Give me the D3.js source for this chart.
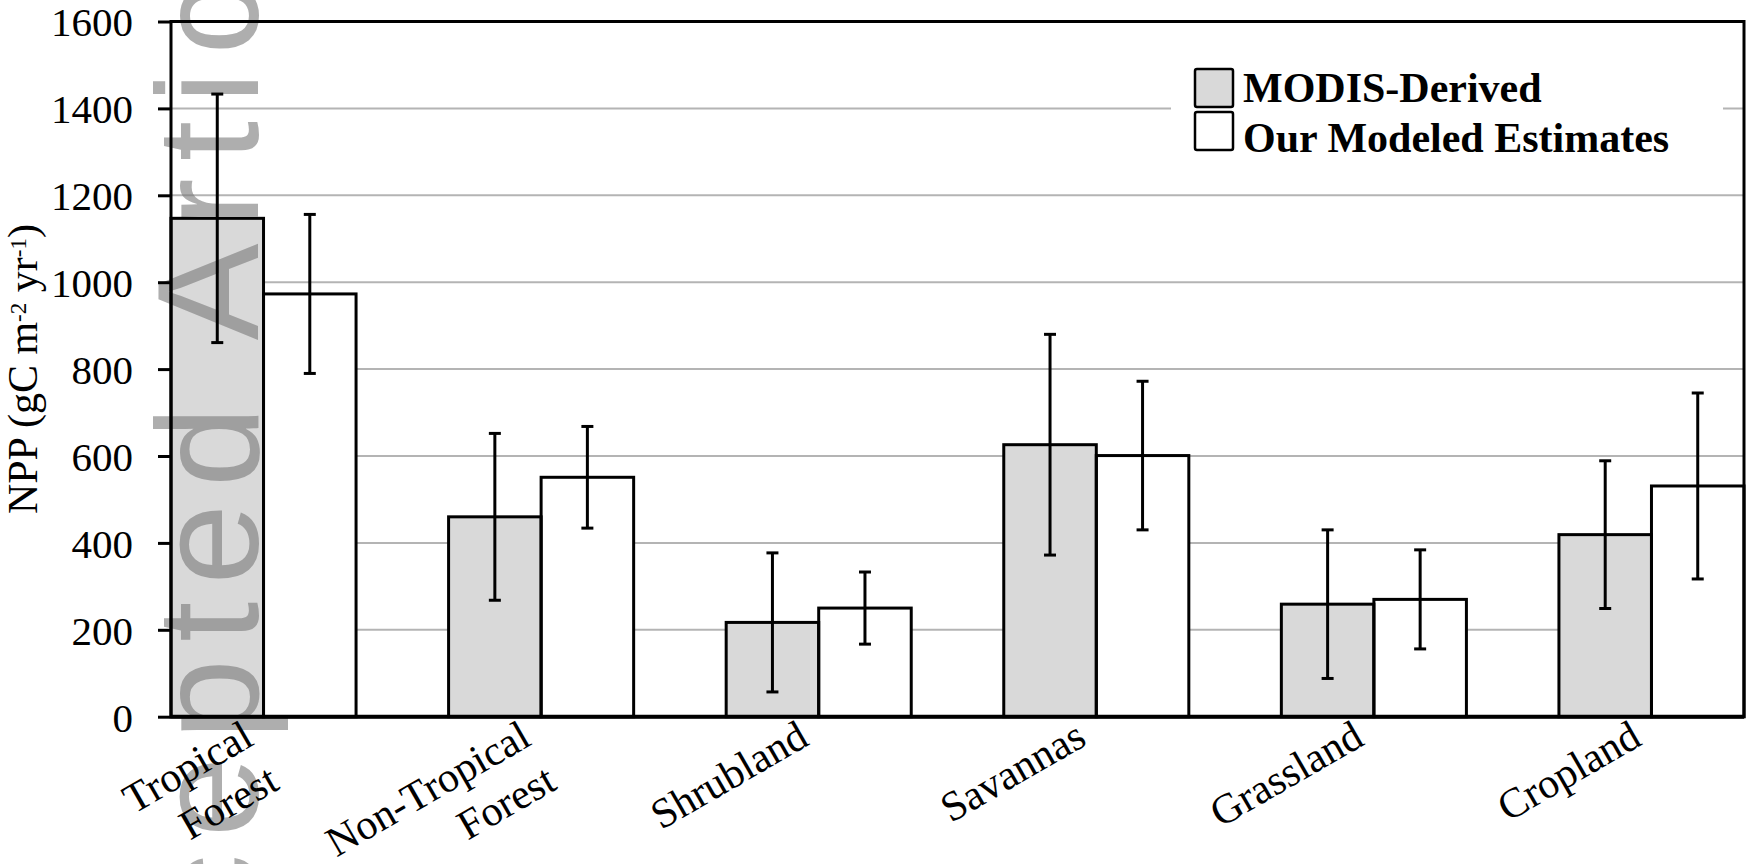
<!DOCTYPE html>
<html>
<head>
<meta charset="utf-8">
<script src="https://cdn.jsdelivr.net/npm/d3@7"></script>
<style>
  body { margin: 0; background: #fff; }
  svg { display: block; }
  text { font-family: "Liberation Serif", "Times New Roman", serif; fill: #000; }
</style>
</head>
<body>
<svg id="chart" width="1747" height="864"></svg>
<script>
(function () {
  'use strict';

  // ---------------- data ----------------
  var categories = ['Tropical Forest', 'Non-Tropical Forest', 'Shrubland', 'Savannas', 'Grassland', 'Cropland'];
  var categoryLines = [['Tropical', 'Forest'], ['Non-Tropical', 'Forest'], ['Shrubland'], ['Savannas'], ['Grassland'], ['Cropland']];
  var seriesNames = ['MODIS-Derived', 'Our Modeled Estimates'];
  var modisValues = [1147, 460, 217, 626, 259, 419];
  var modisErrors = [286, 192, 160, 254, 171, 170];
  var modeledValues = [973, 551, 250, 601, 270, 531];
  var modeledErrors = [183, 117, 83, 171, 114, 214];
  var yTicks = [0, 200, 400, 600, 800, 1000, 1200, 1400, 1600];

  var seriesColors = ['#d9d9d9', '#ffffff'];

  var margin = { left: 171, right: 3, top: 21.5, bottom: 147.3 };
  var width = 1747, height = 864;
  var svg = d3.select('#chart');

  var x = d3.scaleBand()
    .domain(categories)
    .range([margin.left, width - margin.right])
    .paddingInner(1 / 3)
    .paddingOuter(0);

  var xSub = d3.scaleBand()
    .domain(seriesNames)
    .range([0, x.bandwidth()]);

  var y = d3.scaleLinear()
    .domain([0, 1600])
    .range([height - margin.bottom, margin.top]);

  // flatten to one row per bar
  var rows = [];
  categories.forEach(function (c, i) {
    rows.push({ cat: c, series: seriesNames[0], value: modisValues[i], err: modisErrors[i], color: seriesColors[0] });
    rows.push({ cat: c, series: seriesNames[1], value: modeledValues[i], err: modeledErrors[i], color: seriesColors[1] });
  });

  // gridlines
  svg.append('g')
    .attr('class', 'grid')
    .selectAll('line')
    .data(yTicks.slice(1, -1))
    .enter().append('line')
    .attr('x1', margin.left).attr('x2', width - margin.right)
    .attr('y1', function (d) { return y(d); })
    .attr('y2', function (d) { return y(d); })
    .attr('stroke', '#b4b4b4')
    .attr('stroke-width', 2);

  // legend backdrop hides the gridline behind it
  svg.append('rect')
    .attr('x', 1171).attr('y', 55)
    .attr('width', 552).attr('height', 118)
    .attr('fill', '#fff');

  var barX = function (d) { return x(d.cat) + xSub(d.series); };

  // bar fills
  svg.append('g').selectAll('rect')
    .data(rows)
    .enter().append('rect')
    .attr('x', barX)
    .attr('y', function (d) { return y(d.value); })
    .attr('width', xSub.bandwidth())
    .attr('height', function (d) { return y(0) - y(d.value); })
    .attr('fill', function (d) { return d.color; });

  // journal watermark
  svg.append('text')
    .attr('transform', 'translate(258,1130) rotate(-90)')
    .style('font-family', '"Liberation Sans", Arial, sans-serif')
    .style('font-size', '145px')
    .style('letter-spacing', '17px')
    .style('fill', '#787878')
    .style('fill-opacity', 0.6)
    .text('Accepted Article');

  // bar outlines
  svg.append('g').selectAll('rect')
    .data(rows)
    .enter().append('rect')
    .attr('x', barX)
    .attr('y', function (d) { return y(d.value); })
    .attr('width', xSub.bandwidth())
    .attr('height', function (d) { return y(0) - y(d.value); })
    .attr('fill', 'none')
    .attr('stroke', '#000')
    .attr('stroke-width', 3);

  // error bars
  var eb = svg.append('g').attr('class', 'errorbars')
    .selectAll('g')
    .data(rows)
    .enter().append('g')
    .attr('stroke', '#000')
    .attr('stroke-width', 3);
  var cx = function (d) { return barX(d) + xSub.bandwidth() / 2; };
  eb.append('line')
    .attr('x1', cx).attr('x2', cx)
    .attr('y1', function (d) { return y(d.value + d.err); })
    .attr('y2', function (d) { return y(d.value - d.err); });
  eb.append('line')
    .attr('x1', function (d) { return cx(d) - 6; })
    .attr('x2', function (d) { return cx(d) + 6; })
    .attr('y1', function (d) { return y(d.value + d.err); })
    .attr('y2', function (d) { return y(d.value + d.err); });
  eb.append('line')
    .attr('x1', function (d) { return cx(d) - 6; })
    .attr('x2', function (d) { return cx(d) + 6; })
    .attr('y1', function (d) { return y(d.value - d.err); })
    .attr('y2', function (d) { return y(d.value - d.err); });

  // plot frame
  svg.append('rect')
    .attr('x', margin.left).attr('y', margin.top)
    .attr('width', width - margin.right - margin.left)
    .attr('height', y(0) - margin.top)
    .attr('fill', 'none')
    .attr('stroke', '#000')
    .attr('stroke-width', 3);
  svg.append('line')
    .attr('x1', margin.left).attr('x2', width - margin.right)
    .attr('y1', y(0)).attr('y2', y(0))
    .attr('stroke', '#000').attr('stroke-width', 4);

  // y axis
  var yAxis = d3.axisLeft(y)
    .tickValues(yTicks)
    .tickFormat(d3.format('d'))
    .tickSize(13)
    .tickPadding(25);
  var gy = svg.append('g')
    .attr('transform', 'translate(' + margin.left + ',0)')
    .call(yAxis);
  gy.select('.domain').remove();
  gy.selectAll('.tick line').attr('stroke', '#000').attr('stroke-width', 3);
  gy.selectAll('.tick text')
    .style('font-family', '"Liberation Serif", serif')
    .style('font-size', '41px')
    .attr('fill', '#000')
    .attr('dy', '0.35em');

  // y axis title
  var yt = svg.append('text')
    .attr('transform', 'translate(37,' + (y(800)) + ') rotate(-90)')
    .attr('text-anchor', 'middle')
    .style('font-size', '42px');
  yt.append('tspan').text('NPP (gC m');
  yt.append('tspan').attr('dy', -11).style('font-size', '23px').text('-2');
  yt.append('tspan').attr('dy', 11).text(' yr');
  yt.append('tspan').attr('dy', -11).style('font-size', '23px').text('-1');
  yt.append('tspan').attr('dy', 11).text(')');

  // category labels, rotated
  var lab = svg.append('g').selectAll('text')
    .data(categories)
    .enter().append('text')
    .attr('transform', function (d) {
      return 'translate(' + (x(d) + x.bandwidth() / 2 - 8) + ',744) rotate(-30)';
    })
    .attr('text-anchor', 'end')
    .style('font-size', '42px');
  lab.selectAll('tspan')
    .data(function (d, i) { return categoryLines[i]; })
    .enter().append('tspan')
    .attr('x', 0)
    .attr('dy', function (d, i) { return i === 0 ? 0 : 51; })
    .text(function (d) { return d; });

  // legend
  var legend = svg.append('g').attr('transform', 'translate(1195,69)');
  var li = legend.selectAll('g')
    .data(seriesNames)
    .enter().append('g');
  li.append('rect')
    .attr('y', function (d, i) { return i * 43; })
    .attr('width', 38).attr('height', 38)
    .attr('rx', 2)
    .attr('fill', function (d, i) { return seriesColors[i]; })
    .attr('stroke', '#000')
    .attr('stroke-width', 2.5);
  li.append('text')
    .attr('x', 48)
    .attr('y', function (d, i) { return 33 + i * 50; })
    .style('font-size', '42px')
    .style('font-weight', 'bold')
    .text(function (d) { return d; });
})();
</script>
</body>
</html>
